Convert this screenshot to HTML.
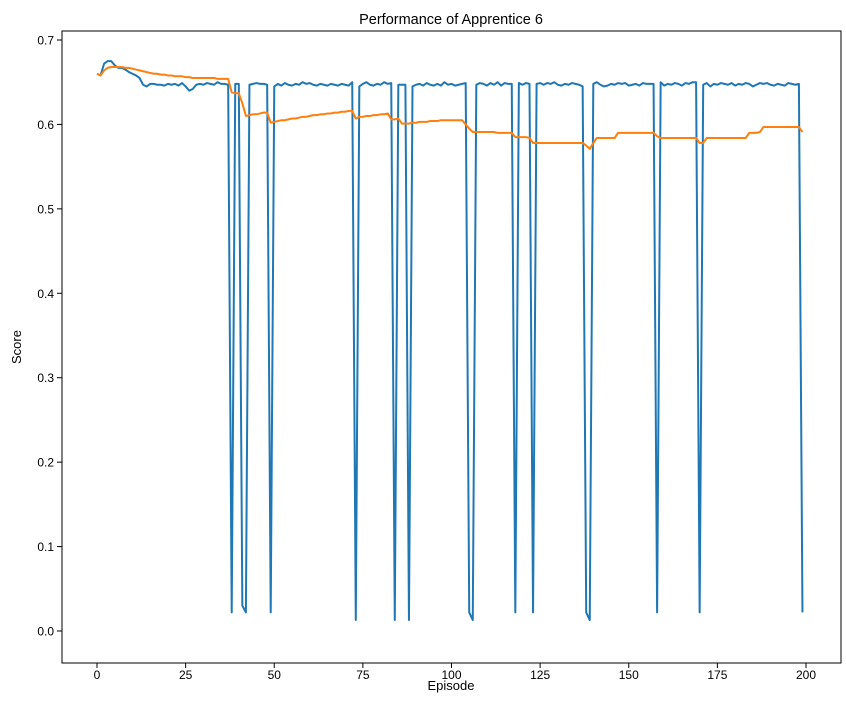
<!DOCTYPE html>
<html><head><meta charset="utf-8"><style>
body{margin:0;background:#fff;}
svg text{font-family:"Liberation Sans","DejaVu Sans",sans-serif;fill:#000;}
</style></head><body>
<svg id="chart" width="846" height="701" xmlns="http://www.w3.org/2000/svg">
<rect width="846" height="701" fill="#fff"/>
<text x="451" y="24" font-size="14.5" text-anchor="middle">Performance of Apprentice 6</text>
<g id="ticks"></g>
<g id="series"></g>
<rect x="62" y="31" width="779" height="632" fill="none" stroke="#000" stroke-width="1"/>
<text x="451" y="690" font-size="13" text-anchor="middle">Episode</text>
<text x="21" y="347" font-size="13" text-anchor="middle" transform="rotate(-90 21 347)">Score</text>
</svg>
<script>
const xTicks=[0,25,50,75,100,125,150,175,200];
const yTicks=[0.0,0.1,0.2,0.3,0.4,0.5,0.6,0.7];
const yTickLabels=["0.0","0.1","0.2","0.3","0.4","0.5","0.6","0.7"];
const scoreSeries=[
.660,.658,.672,.675,.675,.670,.667,.667,.665,.662,
.660,.658,.655,.647,.645,.648,.648,.647,.647,.646,
.648,.647,.648,.646,.649,.645,.640,.642,.647,.648,
.647,.649,.648,.647,.650,.648,.648,.647,.022,.648,
.648,.030,.022,.647,.648,.649,.648,.648,.647,.022,
.645,.648,.646,.649,.647,.646,.648,.647,.650,.648,
.649,.647,.646,.648,.647,.646,.648,.647,.646,.648,
.647,.646,.650,.013,.645,.648,.650,.647,.646,.648,
.647,.650,.648,.649,.013,.647,.647,.647,.013,.645,
.647,.648,.646,.649,.647,.646,.648,.646,.650,.647,
.648,.646,.647,.648,.649,.022,.013,.647,.649,.648,
.646,.649,.647,.650,.646,.649,.648,.648,.022,.649,
.647,.649,.648,.022,.648,.649,.647,.649,.648,.650,
.647,.646,.648,.647,.649,.648,.647,.645,.022,.013,
.648,.650,.647,.645,.646,.648,.647,.649,.648,.649,
.646,.647,.648,.646,.649,.648,.648,.648,.022,.650,
.646,.648,.647,.649,.648,.646,.649,.648,.650,.650,
.022,.647,.649,.645,.648,.647,.649,.648,.647,.649,
.646,.648,.647,.649,.648,.645,.647,.649,.648,.649,
.647,.646,.648,.647,.646,.649,.648,.647,.648,.022];
const avgSeries=[
.660,.658,.664,.667,.668,.668,.668,.668,.667,.667,
.666,.665,.664,.663,.662,.661,.660,.660,.659,.659,
.658,.658,.657,.657,.657,.656,.656,.655,.655,.655,
.655,.655,.655,.655,.654,.654,.654,.654,.638,.637,
.637,.625,.610,.611,.612,.612,.613,.614,.614,.602,
.603,.604,.605,.605,.606,.607,.607,.608,.609,.609,
.610,.611,.611,.612,.612,.613,.613,.614,.614,.615,
.615,.616,.616,.607,.609,.609,.610,.610,.611,.611,
.612,.612,.613,.606,.606,.607,.601,.601,.601,.602,
.602,.603,.603,.603,.604,.604,.604,.605,.605,.605,
.605,.605,.605,.605,.600,.595,.591,.591,.591,.591,
.591,.591,.591,.590,.590,.590,.590,.590,.585,.585,
.585,.585,.584,.578,.578,.578,.578,.578,.578,.578,
.578,.578,.578,.578,.578,.578,.578,.578,.575,.571,
.578,.584,.584,.584,.584,.584,.584,.590,.590,.590,
.590,.590,.590,.590,.590,.590,.590,.590,.586,.584,
.584,.584,.584,.584,.584,.584,.584,.584,.584,.584,
.578,.578,.584,.584,.584,.584,.584,.584,.584,.584,
.584,.584,.584,.584,.590,.590,.590,.591,.597,.597,
.597,.597,.597,.597,.597,.597,.597,.597,.597,.591];
const NS="http://www.w3.org/2000/svg";
const xs=v=>97+v*(806-97)/200;
const ys=v=>631-v*(631-40)/0.7;
const tg=document.getElementById('ticks');
xTicks.forEach(t=>{
  const l=document.createElementNS(NS,'line');
  l.setAttribute('x1',xs(t));l.setAttribute('x2',xs(t));l.setAttribute('y1',663);l.setAttribute('y2',668);l.setAttribute('stroke','#000');
  
  
  tg.appendChild(l);
  const tx=document.createElementNS(NS,'text');
  tx.setAttribute('x',xs(t));tx.setAttribute('y',679);tx.setAttribute('font-size','12');tx.setAttribute('text-anchor','middle');tx.textContent=t;
  
  
  tg.appendChild(tx);
});
yTicks.forEach((t,i)=>{
  const l=document.createElementNS(NS,'line');
  l.setAttribute('x1',57);l.setAttribute('x2',62);l.setAttribute('y1',ys(t));l.setAttribute('y2',ys(t));l.setAttribute('stroke','#000');
  
  
  tg.appendChild(l);
  const tx=document.createElementNS(NS,'text');
  tx.setAttribute('x',54);tx.setAttribute('y',ys(t)+4.5);tx.setAttribute('font-size','12');tx.setAttribute('text-anchor','end');tx.textContent=yTickLabels[i];
  
  
  tg.appendChild(tx);
});
const sg=document.getElementById('series');
function line(arr,color,name){
  const p=document.createElementNS(NS,'polyline');
  p.setAttribute('points',arr.map((v,i)=>xs(i).toFixed(2)+','+ys(v).toFixed(2)).join(' '));
  p.setAttribute('fill','none');p.setAttribute('stroke',color);p.setAttribute('stroke-width','2');p.setAttribute('stroke-linejoin','round');
  
  
  sg.appendChild(p);
}
line(scoreSeries,'#1f77b4','score-line');
line(avgSeries,'#ff7f0e','average-score-line');
</script>
</body></html>
